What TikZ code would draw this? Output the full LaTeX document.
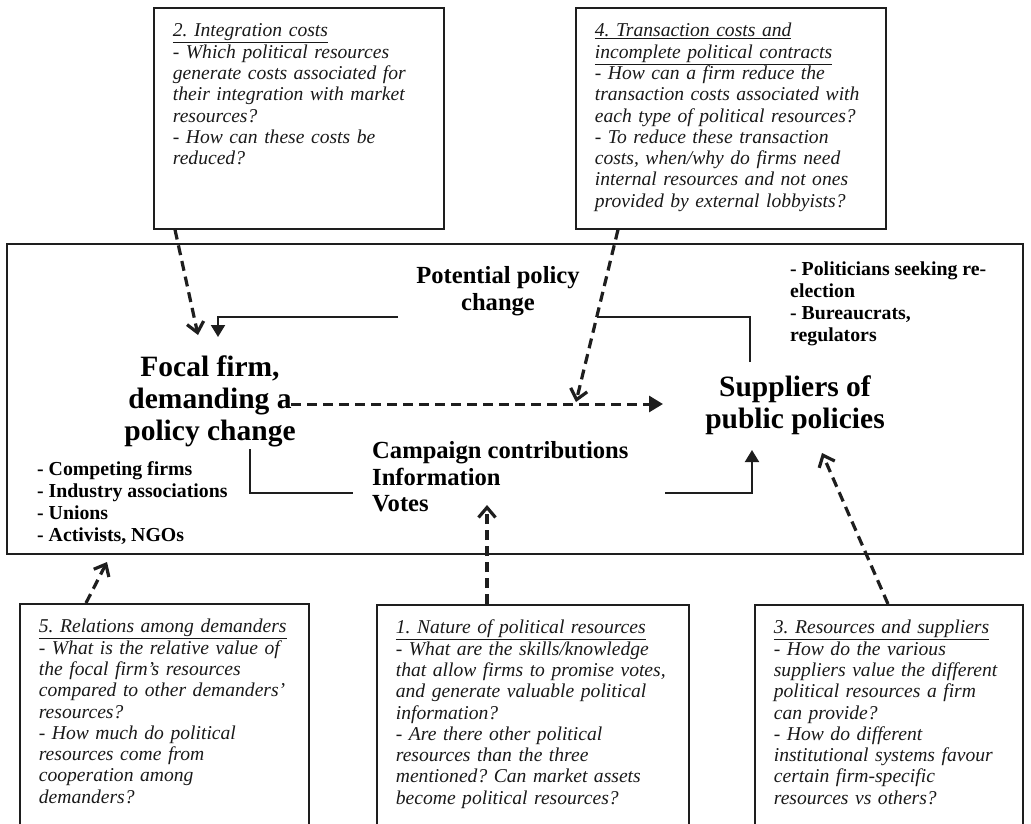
\documentclass[tikz,border=0pt]{standalone}
\usepackage{fontspec}
\setmainfont{Liberation Serif}
\usepackage{tikz}
\usetikzlibrary{arrows.meta, positioning}
\definecolor{inkgray}{RGB}{30, 30, 30}
\frenchspacing

\begin{document}
\begin{tikzpicture}[
    x=1pt, y=-1pt,
    qbox/.style={rectangle, draw=inkgray, line width=1.7pt, anchor=north west, align=left, inner xsep=19pt, inner ysep=6pt, text height=23pt, text=black!90, font=\fontsize{19.6}{21.3}\selectfont\itshape},
    bigtext/.style={align=center, inner sep=0pt, font=\fontsize{29.5}{32}\selectfont\bfseries},
    midtext/.style={align=center, inner sep=0pt, font=\fontsize{24.6}{26.5}\selectfont\bfseries},
    listtext/.style={align=left, anchor=west, inner sep=0pt, font=\fontsize{19.8}{22}\selectfont\bfseries},
    link/.style={draw=inkgray, line width=2pt},
    arrow/.style={link, -{Triangle[length=12pt, width=14pt]}},
    dasharrow/.style={draw=inkgray, line width=3.2pt, dash pattern=on 10pt off 6pt, -{Straight Barb[length=10pt, width=17pt]}},
    dashfill/.style={draw=inkgray, line width=3pt, dash pattern=on 10pt off 6pt, -{Triangle[length=14pt, width=16pt]}}
]
    \useasboundingbox (0,0) rectangle (1031,823);
    \clip (0,0) rectangle (1031,823);

    % Top row: questions 2 and 4
    \node[qbox, text width=252pt, text depth=186pt] (integ) at (153,7) {\underline{2. Integration costs}\\
        - Which political resources\\
        generate costs associated for\\
        their integration with market\\
        resources?\\
        - How can these costs be\\
        reduced?};
    \node[qbox, text width=272pt, text depth=186pt] (trans) at (575,7) {\underline{4. Transaction costs and}\\
        \underline{incomplete political contracts}\\
        - How can a firm reduce the\\
        transaction costs associated with\\
        each type of political resources?\\
        - To reduce these transaction\\
        costs, when/why do firms need\\
        internal resources and not ones\\
        provided by external lobbyists?};

    % Middle: the political market
    \draw[draw=inkgray, line width=2pt] (7,244) rectangle (1023,554);
    \node[bigtext] (focal) at (210,401) {Focal firm,\\demanding a\\policy change};
    \node[bigtext] (suppliers) at (795,405) {Suppliers of\\public policies};
    \node[midtext] (potential) at (498,291) {Potential policy\\change};
    \node[midtext, align=left, anchor=west] (exchange) at (372,477) {Campaign contributions\\Information\\Votes};
    \node[listtext] (officials) at (790,304) {- Politicians seeking re-\\election\\- Bureaucrats,\\regulators};
    \node[listtext] (demanders) at (37,503) {- Competing firms\\- Industry associations\\- Unions\\- Activists, NGOs};

    % Bottom row: questions 5, 1 and 3
    \node[qbox, text width=251pt, text depth=250pt] (relat) at (19,603) {\underline{5. Relations among demanders}\\
        - What is the relative value of\\
        the focal firm's resources\\
        compared to other demanders'\\
        resources?\\
        - How much do political\\
        resources come from\\
        cooperation among\\
        demanders?};
    \node[qbox, text width=274pt, text depth=250pt] (nature) at (376,604) {\underline{1. Nature of political resources}\\
        - What are the skills/knowledge\\
        that allow firms to promise votes,\\
        and generate valuable political\\
        information?\\
        - Are there other political\\
        resources than the three\\
        mentioned? Can market assets\\
        become political resources?};
    \node[qbox, text width=230pt, text depth=250pt] (ressup) at (754,604) {\underline{3. Resources and suppliers}\\
        - How do the various\\
        suppliers value the different\\
        political resources a firm\\
        can provide?\\
        - How do different\\
        institutional systems favour\\
        certain firm-specific\\
        resources vs others?};

    % Connector ends
    \coordinate (ppL) at (398,317);
    \coordinate (ppR) at (597,317);
    \coordinate (focalIn) at (218,337);
    \coordinate (suppOut) at (750,362);
    \coordinate (focalOut) at (250,449);
    \coordinate (exL) at (353,493);
    \coordinate (exR) at (665,493);
    \coordinate (suppIn) at (752,450);
    \coordinate (demStart) at (291,404);
    \coordinate (demEnd) at (663,404);
    \coordinate (tipInteg) at (198,335);
    \coordinate (tipTrans) at (576,402);
    \coordinate (tipNature) at (487,505);
    \coordinate (tipRessup) at (822,453);
    \coordinate (tipRelat) at (107,562);

    % Solid flows
    \draw[link] (suppOut) |- (ppR);
    \draw[arrow] (ppL) -| (focalIn);
    \draw[link] (focalOut) |- (exL);
    \draw[arrow] (exR) -| (suppIn);
    \draw[dashfill] (demStart) -- (demEnd);

    % Questions pointing in
    \draw[dasharrow] (integ.south west) ++(22,0) -- (tipInteg);
    \draw[dasharrow] (trans.south west) ++(43,0) -- (tipTrans);
    \draw[dasharrow] (nature.north west) ++(111,0) -- (tipNature);
    \draw[dasharrow] (ressup.north west) ++(134,0) -- (tipRessup);
    \draw[dasharrow] (relat.north west) ++(67,0) -- (tipRelat);
\end{tikzpicture}
\end{document}
